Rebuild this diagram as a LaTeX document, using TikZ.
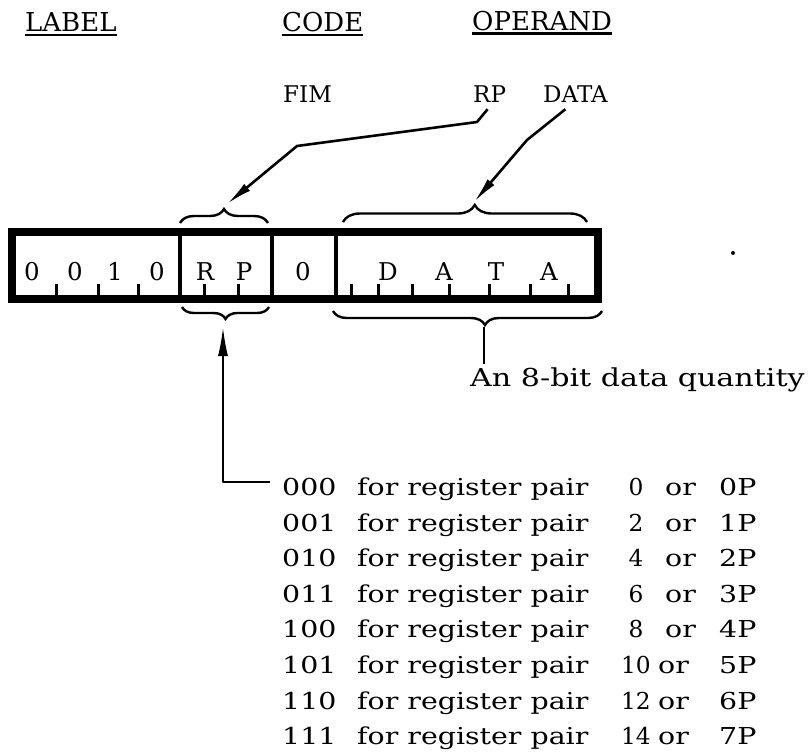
\documentclass[tikz,border=0pt]{standalone}
\usepackage{fontspec}
\setmainfont{DejaVu Serif}
\newfontfamily\lstfont[FakeStretch=1.22]{DejaVu Serif}
\newfontfamily\boxfont{DejaVu Serif}
\usetikzlibrary{arrows.meta,decorations.pathreplacing}
\begin{document}
\begin{tikzpicture}[x=1pt,y=-1pt,
  hd/.style={inner sep=0pt, anchor=base west, font=\fontsize{26}{30}\selectfont},
  sub/.style={inner sep=0pt, anchor=base west, font=\fontsize{23}{27}\selectfont},
  bx/.style={inner sep=0pt, anchor=base, font=\boxfont\fontsize{24.5}{28}\selectfont},
  lt/.style={inner sep=0pt, anchor=base west, font=\lstfont\fontsize{23.3}{28}\selectfont},
  num/.style={inner sep=0pt, font=\fontsize{23.3}{28}\selectfont},
  conn/.style={line width=2.6pt, line join=round},
  arr/.style={conn, -{Latex[length=26pt,width=9pt]}},
  uline/.style={line width=2.5pt},
  brc/.style={line width=2.4pt, decorate, decoration={brace, amplitude=#1}},
  ticky/.style={line width=3pt},
]
\useasboundingbox (0,0) rectangle (809,753);
\fill[white] (0,0) rectangle (809,753);

% headings
\node[hd] (lab) at (25,31) {LABEL};
\node[hd] (code) at (282,31) {CODE};
\node[hd] (opd) at (472,30) {OPERAND};
\draw[uline] ([yshift=-4pt]lab.base west) -- ([yshift=-4pt]lab.base east);
\draw[uline] ([yshift=-4pt]code.base west) -- ([yshift=-4pt]code.base east);
\draw[uline] ([yshift=-3.5pt]opd.base west) -- ([yshift=-3.5pt]opd.base east);

\node[sub] (fim) at (283,102) {FIM};
\node[sub] (rp) at (473,102) {RP};
\node[sub] (data) at (543,102) {DATA};

% register box
\draw[line width=8pt] (12,232) rectangle (598,299);
\draw[line width=3.5pt] (180,232) -- (180,299);
\draw[line width=4pt] (271.5,232) -- (271.5,299);
\draw[line width=4pt] (335.5,232) -- (335.5,299);
\foreach \x in {56,98,138,204,238,351,378,412,449,489,530,568}
  \draw[ticky] (\x,296) -- (\x,284);

\node[bx] (b1) at (32,280) {0};
\node[bx] (b2) at (75,280) {0};
\node[bx] (b3) at (115,280) {1};
\node[bx] (b4) at (157,280) {0};
\node[bx] (bR) at (205,280) {R};
\node[bx] (bP) at (244,280) {P};
\node[bx] (b0) at (303,280) {0};
\node[bx] (bD) at (388,280) {D};
\node[bx] (bA) at (444,280) {A};
\node[bx] (bT) at (496,280) {T};
\node[bx] (bA2) at (549,280) {A};

% braces
\draw[brc=14pt] (180,223) -- (268,223);
\draw[brc=17pt, decoration={aspect=0.54}] (343,222) -- (587,222);
\draw[brc=12pt] (269,307) -- (182,307);
\draw[brc=14pt, decoration={aspect=0.435}] (602,311) -- (333,311);

\coordinate (rptip) at (227,204);
\coordinate (dtip) at (474,202);
\coordinate (rpbot) at (223,326);
\coordinate (dbot) at (484,327);

% connectors from the labels
\draw[arr] ([xshift=-2pt,yshift=-7pt]rp.south) -- (477,122) -- (297,146) -- (rptip);
\draw[arr] ([xshift=-10pt,yshift=-7pt]data.south) -- (527,140) -- (dtip);

% data quantity
\node[lt, font=\lstfont\fontsize{24.7}{30}\selectfont] (qty) at (470,386) {An 8-bit data quantity};
\draw[conn] (dbot) -- (dbot |- 0,364);

% register pair list
\foreach \c/\n/\na/\nx/\o/\p [count=\i from 0] in
  {000/0/base/636/665/0P,001/2/base/636/665/1P,010/4/base/636/665/2P,011/6/base/636/665/3P,
   100/8/base/636/665/4P,101/10/base east/651/658/5P,110/12/base east/651/658/6P,111/14/base east/651/658/7P}{
  \pgfmathsetmacro\yy{495.5+35.6*\i}
  \node[lt] (c\i) at (282,\yy) {\c};
  \node[lt] (f\i) at (357,\yy) {for register pair};
  \node[num, anchor=\na] (n\i) at (\nx,\yy) {\n};
  \node[lt] (o\i) at (\o,\yy) {or};
  \node[lt] (p\i) at (719,\yy) {\p};
}
\draw[arr, -{Latex[length=30pt,width=10pt]}] ([xshift=-12pt,yshift=5pt]c0.west) -| (rpbot);

\fill (733,253) circle (2pt);
\end{tikzpicture}
\end{document}
